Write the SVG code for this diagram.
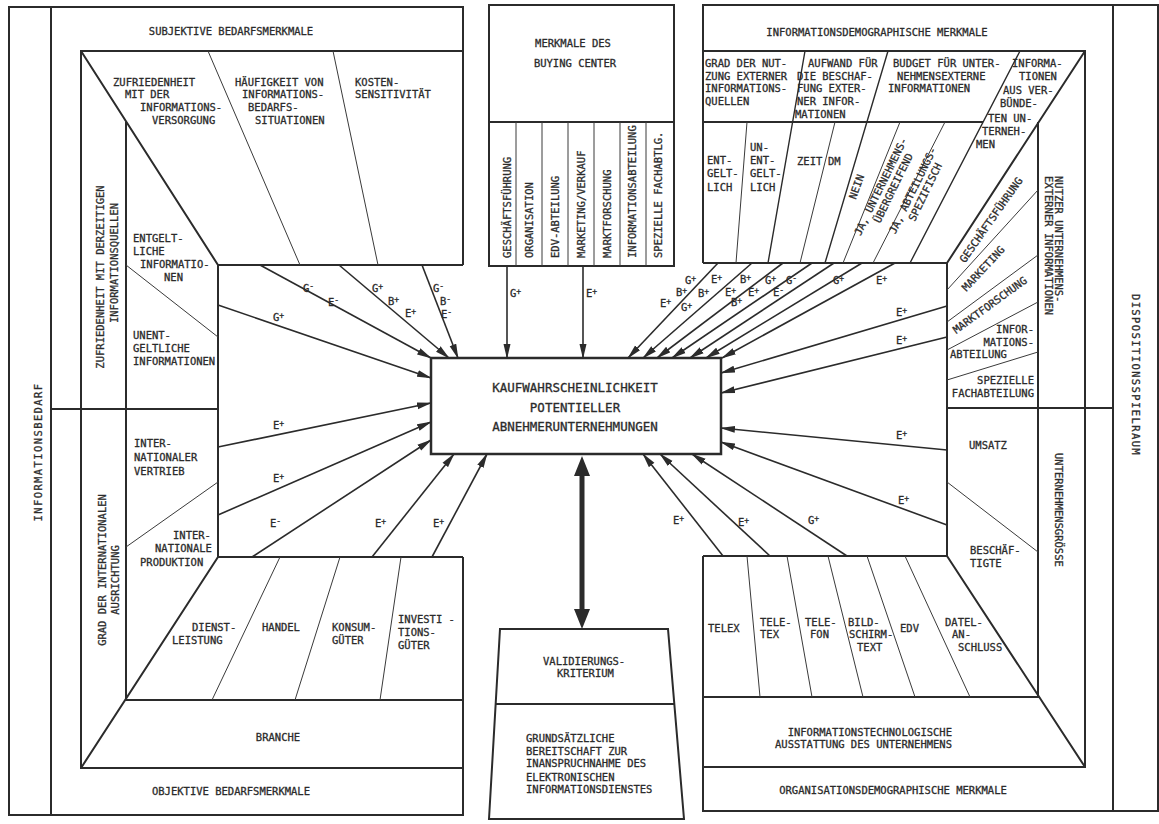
<svg xmlns="http://www.w3.org/2000/svg" width="1159" height="824" viewBox="0 0 1159 824">
<style>
.k{stroke:#2b2b2b;stroke-width:2;fill:none;stroke-linejoin:miter}
.m{stroke:#2b2b2b;stroke-width:1.4;fill:none}
.t{stroke:#3a3a3a;stroke-width:1;fill:none}
.a{stroke:#2b2b2b;stroke-width:1.6;fill:none;marker-end:url(#ah)}
.big{stroke:#2b2b2b;stroke-width:5;fill:none;marker-start:url(#bh);marker-end:url(#bh)}
text{font-family:"DejaVu Sans Mono","Liberation Mono",monospace;font-size:10.5px;fill:#2b2b2b;stroke:#2b2b2b;stroke-width:0.3px}
.c{text-anchor:middle}
.e{text-anchor:end}
.ctr{font-size:12.5px}
.sp{letter-spacing:1.4px}
.s{font-size:8px;baseline-shift:3px}
</style>
<defs>
<marker id="ah" viewBox="0 0 15 8" refX="14" refY="4" markerWidth="15" markerHeight="8" markerUnits="userSpaceOnUse" orient="auto"><path d="M0,0.5 L15,4 L0,7.5 Z" fill="#2b2b2b"/></marker>
<marker id="bh" viewBox="0 0 20 16" refX="4" refY="8" markerWidth="20" markerHeight="16" markerUnits="userSpaceOnUse" orient="auto-start-reverse"><path d="M0,0 L20,8 L0,16 Z" fill="#2b2b2b"/></marker>
</defs>
<rect width="1159" height="824" fill="#fff"/>

<g id="left-panel">
<path class="k" d="M463,265 V7 H9 V815 H463 V557"/>
<path class="k" d="M51,7 V815"/>
<path class="k" d="M463,51 H81 V768 H463"/>
<path class="k" d="M81,51 L218,265 M81,768 L218,557"/>
<path class="k" d="M463,265 H218 V557 H463"/>
<path class="k" d="M126,122 V700 H463"/>
<path class="k" d="M51,409 H218"/>
<path class="t" d="M208,51 L300,265 M333,51 L378,265 M126,265 L218,337 M126,547 L218,482 M280,557 L212,700 M340,557 L295,700 M401,557 L380,700"/>
<text class="sp" transform="translate(42,452) rotate(-90)" text-anchor="middle">INFORMATIONSBEDARF</text>
<text x="231" y="35" class="c">SUBJEKTIVE BEDARFSMERKMALE</text>
<text x="231" y="795" class="c">OBJEKTIVE BEDARFSMERKMALE</text>
<g id="n-zufriedenheit-quellen">
<text class="c" transform="translate(104,277) rotate(-90)">ZUFRIEDENHEIT MIT DERZEITIGEN</text>
<text class="c" transform="translate(118,263) rotate(-90)">INFORMATIONSQUELLEN</text>
</g>
<g id="n-grad-international">
<text class="c" transform="translate(106,570) rotate(-90)">GRAD DER INTERNATIONALEN</text>
<text class="c" transform="translate(119,580) rotate(-90)">AUSRICHTUNG</text>
</g>
<g id="n-zufriedenheit-versorgung">
<text x="113" y="86">ZUFRIEDENHEIT</text>
<text x="125" y="98">MIT DER</text>
<text x="140" y="111">INFORMATIONS-</text>
<text x="152" y="124">VERSORGUNG</text>
</g>
<g id="n-haeufigkeit">
<text x="235" y="86">HÄUFIGKEIT VON</text>
<text x="242" y="98">INFORMATIONS-</text>
<text x="248" y="111">BEDARFS-</text>
<text x="255" y="124">SITUATIONEN</text>
</g>
<g id="n-kosten">
<text x="355" y="86">KOSTEN-</text>
<text x="355" y="98">SENSITIVITÄT</text>
</g>
<g id="n-entgeltlich">
<text x="133" y="242">ENTGELT-</text>
<text x="133" y="255">LICHE</text>
<text x="140" y="268">INFORMATIO-</text>
<text x="164" y="281">NEN</text>
</g>
<g id="n-unentgeltlich">
<text x="133" y="339">UNENT-</text>
<text x="133" y="352">GELTLICHE</text>
<text x="133" y="365">INFORMATIONEN</text>
</g>
<g id="n-vertrieb">
<text x="134" y="447">INTER-</text>
<text x="134" y="461">NATIONALER</text>
<text x="134" y="475">VERTRIEB</text>
</g>
<g id="n-produktion">
<text x="173" y="539">INTER-</text>
<text x="155" y="552">NATIONALE</text>
<text x="140" y="566">PRODUKTION</text>
</g>
<g id="n-dienstleistung"><text x="192" y="631">DIENST-</text><text x="172" y="644">LEISTUNG</text></g>
<g id="n-handel"><text x="262" y="631">HANDEL</text></g>
<g id="n-konsumgueter"><text x="332" y="631">KONSUM-</text><text x="332" y="644">GÜTER</text></g>
<g id="n-investitionsgueter"><text x="398" y="623">INVESTI -</text><text x="398" y="636">TIONS-</text><text x="398" y="649">GÜTER</text></g>
<g id="n-branche"><text x="278" y="741" class="c">BRANCHE</text></g>
</g>

<g id="n-buying-center">
<rect x="489" y="5" width="185" height="261" class="k"/>
<path class="k" d="M489,122 H674"/>
<path class="t" d="M516,122 V266 M542,122 V266 M568,122 V266 M594,122 V266 M620,122 V266 M646,122 V266"/>
<text x="573" y="47" class="c">MERKMALE DES</text>
<text x="575" y="67" class="c">BUYING CENTER</text>
<text transform="translate(511,258) rotate(-90)">GESCHÄFTSFÜHRUNG</text>
<text transform="translate(533,258) rotate(-90)">ORGANISATION</text>
<text transform="translate(559,258) rotate(-90)">EDV-ABTEILUNG</text>
<text transform="translate(585,258) rotate(-90)">MARKETING/VERKAUF</text>
<text transform="translate(611,258) rotate(-90)">MARKTFORSCHUNG</text>
<text transform="translate(636,258) rotate(-90)">INFORMATIONSABTEILUNG</text>
<text transform="translate(662,258) rotate(-90)">SPEZIELLE FACHABTLG.</text>
</g>

<g id="right-panel">
<path class="k" d="M703,263 V5 H1158 V811 H703 V556"/>
<path class="k" d="M1113,5 V811"/>
<path class="k" d="M703,51 H1085 V767 H703"/>
<path class="k" d="M1085,51 L947,263 M1085,767 L947,556"/>
<path class="k" d="M703,263 H947 V556 H703"/>
<path class="k" d="M1038,122 V697 H703"/>
<path class="k" d="M703,122 H983"/>
<path class="k" d="M947,408 H1113"/>
<path class="m" d="M805,51 L768,263 M888,51 L825,263 M1020,51 L910,263"/>
<path class="t" d="M747,122 L736,263 M835,122 L800,263 M900,122 L843,263 M945,122 L873,263"/>
<path class="t" d="M947,290 L1038,190 M947,322 L1038,255 M947,350 L1038,302 M947,380 L1038,352 M947,482 L1038,552"/>
<path class="t" d="M747,556 L760,697 M787,556 L812,697 M828,556 L863,697 M867,556 L915,697 M905,556 L970,697"/>
<text x="877" y="36" class="c">INFORMATIONSDEMOGRAPHISCHE MERKMALE</text>
<text x="893" y="794" class="c">ORGANISATIONSDEMOGRAPHISCHE MERKMALE</text>
<text class="c sp" transform="translate(1132,375) rotate(90)">DISPOSITIONSSPIELRAUM</text>
<g id="n-grad-nutzung">
<text x="705" y="67">GRAD DER NUT-</text>
<text x="705" y="80">ZUNG EXTERNER</text>
<text x="705" y="92">INFORMATIONS-</text>
<text x="705" y="105">QUELLEN</text>
</g>
<g id="n-aufwand">
<text x="808" y="67">AUFWAND FÜR</text>
<text x="797" y="80">DIE BESCHAF-</text>
<text x="797" y="92">FUNG EXTER-</text>
<text x="797" y="105">NER INFOR-</text>
<text x="795" y="118">MATIONEN</text>
</g>
<g id="n-budget">
<text x="893" y="67">BUDGET FÜR UNTER-</text>
<text x="897" y="80">NEHMENSEXTERNE</text>
<text x="888" y="92">INFORMATIONEN</text>
</g>
<g id="n-verbuendete">
<text x="1012" y="67">INFORMA-</text>
<text x="1019" y="80">TIONEN</text>
<text x="1003" y="94">AUS VER-</text>
<text x="1000" y="107">BÜNDE-</text>
<text x="988" y="122">TEN UN-</text>
<text x="982" y="135">TERNEH-</text>
<text x="976" y="148">MEN</text>
</g>
<g id="n-entgeltlich-r"><text x="707" y="164">ENT-</text><text x="707" y="177">GELT-</text><text x="707" y="191">LICH</text></g>
<g id="n-unentgeltlich-r"><text x="750" y="151">UN-</text><text x="750" y="164">ENT-</text><text x="750" y="177">GELT-</text><text x="750" y="191">LICH</text></g>
<g id="n-zeit"><text x="797" y="165">ZEIT</text></g>
<g id="n-dm"><text x="828" y="165">DM</text></g>
<g id="n-nein"><text class="c" transform="translate(860,188) rotate(-70)">NEIN</text></g>
<g id="n-ja-uebergreifend" transform="translate(884,188) rotate(-64)"><text x="0" y="0" class="c">JA, UNTERNEHMENS-</text><text x="4" y="12" class="c">ÜBERGREIFEND</text></g>
<g id="n-ja-abteilung" transform="translate(916,192) rotate(-64)"><text x="0" y="0" class="c">JA, ABTEILUNGS-</text><text x="4" y="12" class="c">SPEZIFISCH</text></g>
<g id="n-nutzer">
<text transform="translate(1055,176) rotate(90)">NUTZER UNTERNEHMENS-</text>
<text transform="translate(1045,176) rotate(90)">EXTERNER INFORMATIONEN</text>
</g>
<g id="n-groesse"><text transform="translate(1055,453) rotate(90)">UNTERNEHMENSGRÖSSE</text></g>
<g id="n-gf-r"><text class="c" transform="translate(994,222) rotate(-55)">GESCHÄFTSFÜHRUNG</text></g>
<g id="n-marketing"><text class="c" transform="translate(986,271) rotate(-47)">MARKETING</text></g>
<g id="n-marktforschung"><text class="c" transform="translate(992,308) rotate(-36)">MARKTFORSCHUNG</text></g>
<g id="n-infoabteilung"><text x="1034" y="333" class="e">INFOR-</text><text x="1034" y="346" class="e">MATIONS-</text><text x="950" y="358">ABTEILUNG</text></g>
<g id="n-fachabteilung"><text x="1034" y="384" class="e">SPEZIELLE</text><text x="1034" y="397" class="e">FACHABTEILUNG</text></g>
<g id="n-umsatz"><text x="969" y="449">UMSATZ</text></g>
<g id="n-beschaeftigte"><text x="970" y="554">BESCHÄF-</text><text x="970" y="567">TIGTE</text></g>
<g id="n-telex"><text x="708" y="632">TELEX</text></g>
<g id="n-teletex"><text x="760" y="626">TELE-</text><text x="760" y="638">TEX</text></g>
<g id="n-telefon"><text x="805" y="626">TELE-</text><text x="810" y="638">FON</text></g>
<g id="n-btx"><text x="848" y="626">BILD-</text><text x="849" y="638">SCHIRM-</text><text x="857" y="651">TEXT</text></g>
<g id="n-edv"><text x="900" y="632">EDV</text></g>
<g id="n-datel"><text x="945" y="626">DATEL-</text><text x="952" y="638">AN-</text><text x="958" y="651">SCHLUSS</text></g>
<g id="n-ausstattung"><text x="952" y="736" class="e">INFORMATIONSTECHNOLOGISCHE</text><text x="952" y="748" class="e">AUSSTATTUNG DES UNTERNEHMENS</text></g>
</g>

<g id="n-center">
<rect x="431" y="358" width="290" height="96" class="k" style="stroke-width:2.5"/>
<text x="575" y="392" class="c ctr">KAUFWAHRSCHEINLICHKEIT</text>
<text x="575" y="412" class="c ctr">POTENTIELLER</text>
<text x="575" y="431" class="c ctr">ABNEHMERUNTERNEHMUNGEN</text>
</g>

<g id="n-validierung">
<path class="k" d="M500,629 L668,629 L684,819 L489,819 Z"/>
<path class="k" d="M496,704 L674,704"/>
<text x="543" y="665">VALIDIERUNGS-</text>
<text x="557" y="677">KRITERIUM</text>
<text x="526" y="742">GRUNDSÄTZLICHE</text>
<text x="526" y="755">BEREITSCHAFT ZUR</text>
<text x="526" y="767">INANSPRUCHNAHME DES</text>
<text x="526" y="781">ELEKTRONISCHEN</text>
<text x="526" y="793">INFORMATIONSDIENSTES</text>
</g>

<g id="connectors">
<path class="a" d="M260,265 L431,358"/>
<path class="a" d="M339,265 L449,358"/>
<path class="a" d="M422,265 L458,358"/>
<path class="a" d="M218,305 L431,378"/>
<path class="a" d="M218,447 L431,403"/>
<path class="a" d="M218,515 L431,422"/>
<path class="a" d="M252,557 L431,440"/>
<path class="a" d="M372,557 L454,454"/>
<path class="a" d="M432,557 L487,454"/>
<path class="a" d="M507,266 L507,358"/>
<path class="a" d="M583,266 L583,358"/>
<path class="a" d="M718,263 L628,358"/>
<path class="a" d="M752,263 L643,358"/>
<path class="a" d="M783,263 L657,358"/>
<path class="a" d="M812,263 L672,358"/>
<path class="a" d="M834,263 L690,358"/>
<path class="a" d="M862,263 L706,358"/>
<path class="a" d="M895,263 L722,358"/>
<path class="a" d="M947,306 L721,373"/>
<path class="a" d="M947,337 L721,393"/>
<path class="a" d="M947,450 L721,428"/>
<path class="a" d="M947,525 L721,442"/>
<path class="a" d="M723,556 L643,454"/>
<path class="a" d="M770,556 L660,454"/>
<path class="a" d="M847,556 L692,454"/>
<path class="big" d="M582,472 L582,613"/>
<g id="labels">
<text x="303" y="292">G<tspan class="s">-</tspan></text>
<text x="328" y="306">E<tspan class="s">-</tspan></text>
<text x="372" y="292">G<tspan class="s">+</tspan></text>
<text x="388" y="305">B<tspan class="s">+</tspan></text>
<text x="405" y="317">E<tspan class="s">+</tspan></text>
<text x="433" y="292">G<tspan class="s">-</tspan></text>
<text x="440" y="305">B<tspan class="s">-</tspan></text>
<text x="441" y="318">E<tspan class="s">-</tspan></text>
<text x="273" y="321">G<tspan class="s">+</tspan></text>
<text x="273" y="429">E<tspan class="s">+</tspan></text>
<text x="273" y="482">E<tspan class="s">+</tspan></text>
<text x="270" y="527">E<tspan class="s">-</tspan></text>
<text x="375" y="527">E<tspan class="s">+</tspan></text>
<text x="433" y="527">E<tspan class="s">+</tspan></text>
<text x="510" y="297">G<tspan class="s">+</tspan></text>
<text x="586" y="297">E<tspan class="s">+</tspan></text>
<text x="685" y="284">G<tspan class="s">+</tspan></text>
<text x="711" y="283">E<tspan class="s">+</tspan></text>
<text x="740" y="283">B<tspan class="s">+</tspan></text>
<text x="765" y="284">G<tspan class="s">+</tspan></text>
<text x="786" y="284">G<tspan class="s">-</tspan></text>
<text x="676" y="296">B<tspan class="s">+</tspan></text>
<text x="698" y="297">B<tspan class="s">+</tspan></text>
<text x="725" y="296">E<tspan class="s">+</tspan></text>
<text x="748" y="296">E<tspan class="s">+</tspan></text>
<text x="773" y="296">E<tspan class="s">-</tspan></text>
<text x="660" y="307">E<tspan class="s">+</tspan></text>
<text x="681" y="311">G<tspan class="s">+</tspan></text>
<text x="731" y="306">B<tspan class="s">+</tspan></text>
<text x="833" y="284">G<tspan class="s">+</tspan></text>
<text x="876" y="284">E<tspan class="s">+</tspan></text>
<text x="896" y="316">E<tspan class="s">+</tspan></text>
<text x="896" y="344">E<tspan class="s">+</tspan></text>
<text x="896" y="439">E<tspan class="s">+</tspan></text>
<text x="898" y="504">E<tspan class="s">+</tspan></text>
<text x="673" y="524">E<tspan class="s">+</tspan></text>
<text x="738" y="526">E<tspan class="s">+</tspan></text>
<text x="808" y="524">G<tspan class="s">+</tspan></text>
</g>
</g>
</svg>
